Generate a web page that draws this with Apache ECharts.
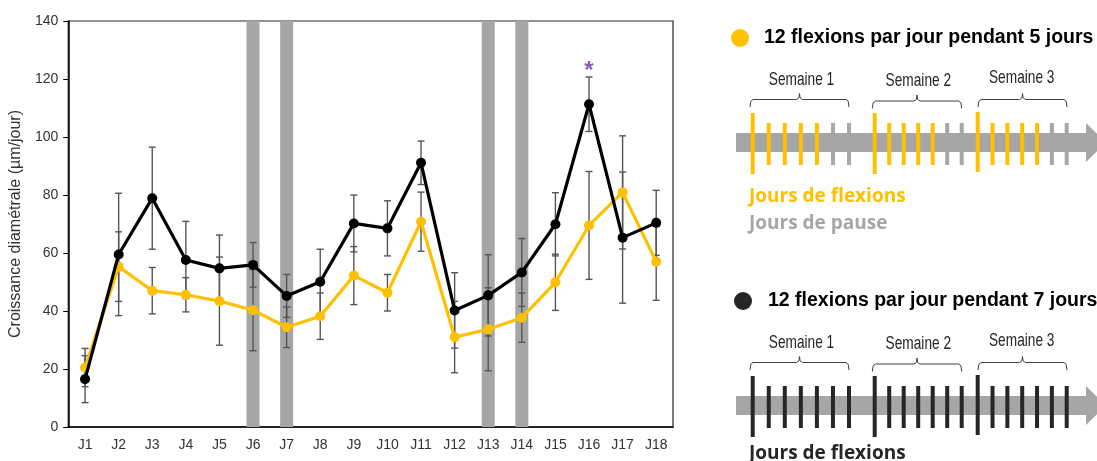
<!DOCTYPE html>
<html>
<head>
<meta charset="utf-8">
<script src="https://cdn.jsdelivr.net/npm/echarts@6/dist/echarts.min.js"></script>
<style>
html,body{margin:0;padding:0;background:#fff;}
#chart{width:1097px;height:461px;}
</style>
</head>
<body>
<div id="chart"></div>
<script>
// ---------- data ----------
const days = ['J1','J2','J3','J4','J5','J6','J7','J8','J9','J10','J11','J12','J13','J14','J15','J16','J17','J18'];
const seven = [16.5,59.5,78.9,57.6,54.7,55.9,45.2,50.1,70.2,68.5,91.1,40.2,45.4,53.3,69.9,111.3,65.3,70.4];
const sevenErr = [8.1,21.1,17.6,13.3,11.5,7.7,7.4,11.2,9.8,9.5,7.5,13.0,14.0,11.7,10.9,9.4,22.6,11.2];
const five = [20.5,55.3,47.0,45.6,43.4,40.3,34.4,38.2,52.2,46.3,70.8,31.0,33.7,37.7,49.9,69.5,80.9,57.0];
const fiveErr = [6.6,12.0,8.0,5.9,15.2,14.0,7.0,8.0,10.0,6.3,10.2,12.3,14.3,8.5,9.7,18.6,19.5,13.3];
const pauseDays = ['J6','J7','J13','J14'];
const pauseValue = 140;
const signifDays = ['J16'];
const signifValue = [124.5];
const yTicks = [0,20,40,60,80,100,120,140];
const yName = 'Croissance diamétrale (µm/jour)';
const legendTitles = ['12 flexions par jour pendant 5 jours','12 flexions par jour pendant 7 jours'];
const weekLabels = ['Semaine 1','Semaine 2','Semaine 3'];
const schedule5 = [[1,1,1,1,1,0,0],[1,1,1,1,1,0,0],[1,1,1,1,1,0,0]];
const schedule7 = [[1,1,1,1,1,1,1],[1,1,1,1,1,1,1],[1,1,1,1,1,1,1]];
const flexLabel = 'Jours de flexions';
const pauseLabel = 'Jours de pause';

// ---------- colours ----------
const YEL = '#ffc000', BLK = '#000000', GREY = '#a6a6a6', ERR = '#555555';

// ---------- error bar series ----------
function errSeries(vals, errs, z) {
  return {
    type: 'custom', z: z, silent: true,
    data: vals.map((v, i) => [i, v, errs[i]]),
    encode: {x: 0, y: 1},
    renderItem: function (params, api) {
      const i = api.value(0), v = api.value(1), e = api.value(2);
      const top = api.coord([i, v + e]);
      const bot = api.coord([i, v - e]);
      const hw = 3.5;
      const st = {stroke: ERR, lineWidth: 1.4};
      return {type: 'group', children: [
        {type: 'line', shape: {x1: top[0], y1: top[1], x2: bot[0], y2: bot[1]}, style: st},
        {type: 'line', shape: {x1: top[0]-hw, y1: top[1], x2: top[0]+hw, y2: top[1]}, style: st},
        {type: 'line', shape: {x1: bot[0]-hw, y1: bot[1], x2: bot[0]+hw, y2: bot[1]}, style: st}
      ]};
    }
  };
}

// ---------- right-hand schematic ----------
function panel(dy, color, schedule, title, circX, titleX) {
  const els = [];
  els.push({type: 'circle', shape: {cx: circX, cy: 38 + dy, r: 9}, style: {fill: color === YEL ? YEL : '#262626'}});
  els.push({type: 'text', x: titleX, y: 38 + dy, style: {text: title, x: 0, y: 0, align: 'left', verticalAlign: 'middle',
    fontFamily: 'Liberation Sans, Arial, sans-serif', fontWeight: 'bold', fontSize: 19.5, fill: '#000'}});
  const wkStart = [752.7, 874.7, 977.7];
  const wkEnd = [849, 961.7, 1066.7];
  const labX = [801.5, 918.3, 1021.7];
  const labY = [80, 81, 78];
  const brace = [[750, 849, 0], [872.3, 961.7, 1.5], [978, 1067, 0]];
  const tallTop = [113, 113, 112], tallBot = [174, 174, 172];
  // arrow
  els.push({type: 'rect', shape: {x: 736, y: 133 + dy, width: 352, height: 19}, style: {fill: GREY}});
  els.push({type: 'polygon', shape: {points: [[1086, 123 + dy], [1106, 142.5 + dy], [1086, 162 + dy]]}, style: {fill: GREY}});
  for (let w = 0; w < 3; w++) {
    els.push({type: 'text', x: labX[w], y: labY[w] + dy, scaleX: 0.72, style: {text: weekLabels[w], x: 0, y: 0,
      align: 'center', verticalAlign: 'middle', fontFamily: 'Liberation Sans, Arial, sans-serif', fontSize: 19, fill: '#262626'}});
    const [x0, x1, o] = brace[w];
    const xm = (x0 + x1) / 2;
    const yH = 99.5 + o + dy, yE = 107 + o + dy, yA = 93.5 + o + dy;
    els.push({type: 'polyline', shape: {points: [[x0, yE], [x0 + 0.8, yH + 1.8], [x0 + 3, yH], [xm - 3, yH], [xm - 0.6, yH - 1.6], [xm, yA],
      [xm + 0.6, yH - 1.6], [xm + 3, yH], [x1 - 3, yH], [x1 - 0.8, yH + 1.8], [x1, yE]]}, style: {stroke: '#404040', lineWidth: 1, fill: null}});
    const step = (wkEnd[w] - wkStart[w]) / 6;
    for (let d = 0; d < 7; d++) {
      const x = wkStart[w] + d * step;
      const on = schedule[w][d] === 1;
      const y0 = d === 0 ? tallTop[w] : 123;
      const y1 = d === 0 ? tallBot[w] : 165;
      els.push({type: 'rect', shape: {x: x - 2, y: y0 + dy, width: 4, height: y1 - y0}, style: {fill: on ? color : GREY}});
    }
  }
  return els;
}

const graphics = [].concat(
  panel(0, YEL, schedule5, legendTitles[0], 740, 764),
  panel(263, '#262626', schedule7, legendTitles[1], 743, 768),
  [
    {type: 'text', x: 749, y: 197, style: {text: flexLabel, x: 0, y: 0, verticalAlign: 'middle', fontFamily: 'Open Sans, sans-serif', fontWeight: 'bold', fontSize: 19, fill: YEL}},
    {type: 'text', x: 749, y: 224, style: {text: pauseLabel, x: 0, y: 0, verticalAlign: 'middle', fontFamily: 'Open Sans, sans-serif', fontWeight: 'bold', fontSize: 19, fill: GREY}},
    {type: 'text', x: 749, y: 454, style: {text: flexLabel, x: 0, y: 0, verticalAlign: 'middle', fontFamily: 'Open Sans, sans-serif', fontWeight: 'bold', fontSize: 19, fill: '#262626'}}
  ]
);

const chart = echarts.init(document.getElementById('chart'), null, {renderer: 'canvas'});
chart.setOption({
  animation: false,
  backgroundColor: '#fff',
  textStyle: {fontFamily: 'Liberation Sans, Arial, sans-serif'},
  grid: {left: 68, top: 21, width: 605, height: 406, show: true, borderColor: '#262626', borderWidth: 1.2, backgroundColor: 'transparent'},
  xAxis: {
    type: 'category', data: days, boundaryGap: true,
    axisLine: {lineStyle: {color: '#000', width: 1.5}},
    axisTick: {show: false},
    axisLabel: {fontSize: 14, color: '#333', margin: 11}
  },
  yAxis: {
    type: 'value', min: yTicks[0], max: yTicks[yTicks.length - 1], interval: 20,
    name: yName, nameLocation: 'middle', nameGap: 42,
    nameTextStyle: {fontSize: 16, color: '#333'},
    axisLine: {show: true, lineStyle: {color: '#000', width: 1.5}},
    axisTick: {show: true, length: 5, lineStyle: {color: '#000'}},
    splitLine: {show: false},
    axisLabel: {fontSize: 14, color: '#333', margin: 10}
  },
  series: [
    {type: 'bar', z: 1, silent: true, barWidth: 13, itemStyle: {color: GREY},
      data: days.map(d => pauseDays.includes(d) ? pauseValue : '-')},
    errSeries(five, fiveErr, 2),
    errSeries(seven, sevenErr, 2),
    {type: 'line', z: 3, data: five, symbol: 'circle', symbolSize: 10, lineStyle: {color: YEL, width: 3.2}, itemStyle: {color: YEL}},
    {type: 'line', z: 4, data: seven, symbol: 'circle', symbolSize: 10, lineStyle: {color: BLK, width: 3.2}, itemStyle: {color: BLK}},
    {type: 'scatter', z: 5, symbolSize: 1, itemStyle: {color: 'rgba(0,0,0,0)'},
      data: signifDays.map((d, i) => [d, signifValue[i]]),
      label: {show: true, position: 'inside', formatter: '*', fontSize: 24, fontWeight: 'bold', color: '#7030a0', offset: [0, 5]}}
  ],
  graphic: graphics
});
</script>
</body>
</html>
